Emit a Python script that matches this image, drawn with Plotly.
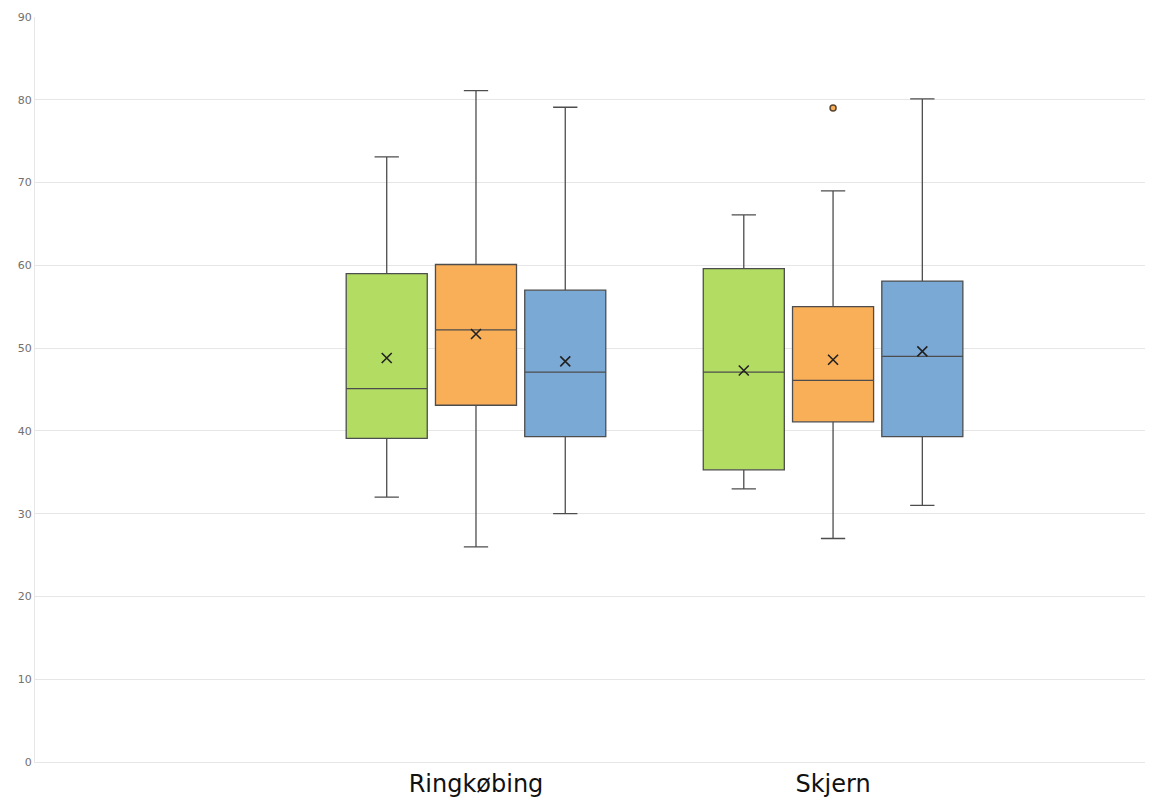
import plotly.graph_objects as go

categories = ["Ringkøbing", "Skjern"]
series_names = ["Serie 1", "Serie 2", "Serie 3"]
colors = ["#b3dc63", "#f9ae58", "#7ba9d6"]

lower = [[32, 33], [26, 27], [30, 31]]
q1 = [[39.1, 35.3], [43.1, 41.1], [39.3, 39.3]]
median = [[45.1, 47.1], [52.2, 46.1], [47.1, 49.0]]
q3 = [[59.0, 59.6], [60.1, 55.0], [57.0, 58.1]]
upper = [[73.1, 66.1], [81.1, 69.0], [79.1, 80.1]]
mean = [[48.8, 47.3], [51.7, 48.6], [48.4, 49.6]]
outliers = [[[], []], [[], [79.0]], [[], []]]

offsets = [-0.25, 0.0, 0.25]
box_width = 0.227

fig = go.Figure()
for s in range(3):
    xs = [i + offsets[s] for i in range(len(categories))]
    fig.add_trace(go.Box(
        x=xs, q1=q1[s], median=median[s], q3=q3[s],
        lowerfence=lower[s], upperfence=upper[s],
        width=box_width, whiskerwidth=0.3,
        fillcolor=colors[s], line=dict(color="#4d4d4d", width=1.3),
        name=series_names[s], showlegend=False, hoverinfo="skip",
    ))
    fig.add_trace(go.Scatter(
        x=xs, y=mean[s], mode="markers",
        marker=dict(symbol="x-thin", size=10, line=dict(color="#222222", width=1.6)),
        showlegend=False, hoverinfo="skip",
    ))
    ox, oy = [], []
    for i in range(len(categories)):
        for v in outliers[s][i]:
            ox.append(i + offsets[s])
            oy.append(v)
    if ox:
        fig.add_trace(go.Scatter(
            x=ox, y=oy, mode="markers",
            marker=dict(symbol="circle", size=6, color=colors[s],
                        line=dict(color="#5a4630", width=1.5)),
            showlegend=False, hoverinfo="skip",
        ))

fig.update_layout(
    width=1145, height=792,
    margin=dict(l=27, r=0, t=9, b=38),
    paper_bgcolor="white", plot_bgcolor="white",
    font=dict(family="DejaVu Sans"),
    xaxis=dict(
        range=[-1.235, 1.896], tickmode="array",
        tickvals=list(range(len(categories))), ticktext=categories,
        tickfont=dict(size=24, color="#111111", family="DejaVu Sans"),
        showgrid=False, zeroline=False, showline=True,
        linecolor="#e6e6e6", linewidth=1, ticks="",
    ),
    yaxis=dict(
        range=[0, 90], dtick=10, showgrid=True, gridcolor="#e6e6e6",
        gridwidth=1, zeroline=False, showline=True, linecolor="#e6e6e6",
        tickfont=dict(size=11, color="#707070"), ticks="",
    ),
)

fig.write_html("out.html")
